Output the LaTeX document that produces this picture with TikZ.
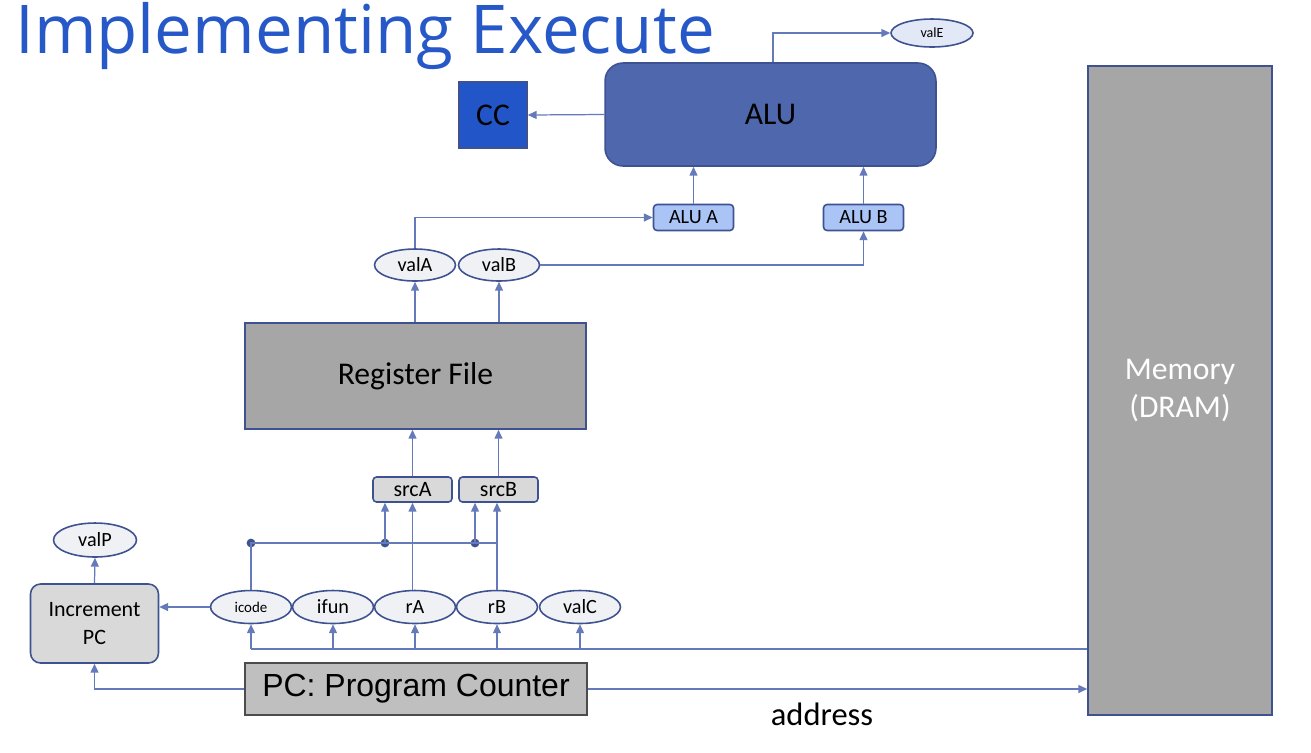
\documentclass[tikz,border=0pt]{standalone}
\usepackage{fontspec}
\setmainfont{Carlito}
\newfontfamily\titlefont{Open Sans}
\newfontfamily\arialfont{Liberation Sans}
\usetikzlibrary{arrows.meta,shapes.geometric,positioning}

\definecolor{titleblue}{RGB}{38,88,200}
\definecolor{wireblue}{RGB}{100,122,186}
\definecolor{edgeblue}{RGB}{62,82,145}
\definecolor{alufill}{RGB}{79,103,172}
\definecolor{ccfill}{RGB}{34,86,200}
\definecolor{muxfill}{RGB}{170,197,245}
\definecolor{ovalfill}{RGB}{240,241,245}
\definecolor{darkgray}{RGB}{166,166,166}
\definecolor{lightgray}{RGB}{217,217,217}
\definecolor{pcgray}{RGB}{191,191,191}

\begin{document}
\begin{tikzpicture}[x=0.02cm,y=-0.02cm,
  wire/.style={draw=wireblue, line width=0.7pt},
  arr/.style={wire, -{Triangle[length=5pt,width=4.5pt]}},
  oval/.style={ellipse, draw=edgeblue, line width=0.9pt, fill=ovalfill,
    inner sep=0pt, minimum width=1.62cm, minimum height=0.66cm, font=\fontsize{11.5}{12}\selectfont},
  muxbox/.style={rectangle, rounded corners=2pt, draw=edgeblue, line width=0.9pt,
    minimum width=1.6cm, minimum height=0.52cm, inner sep=0pt, font=\fontsize{11.5}{12}\selectfont},
  bigbox/.style={rectangle, draw=edgeblue, line width=0.9pt, fill=darkgray,
    inner sep=0pt, font=\fontsize{18}{21.6}\selectfont, align=center},
  dot/.style={circle, fill=edgeblue, inner sep=0pt, minimum size=5pt}]

\useasboundingbox (0,0) rectangle (1311,752);

% title
\node[anchor=base west, text=titleblue, inner sep=0pt] (title) at (15,53)
  {\titlefont\fontsize{38.3}{42}\selectfont Implementing Execute};

% ALU part
\node[rectangle, rounded corners=0.36cm, draw=edgeblue, line width=0.9pt, fill=alufill,
  minimum width=6.62cm, minimum height=2.06cm, font=\fontsize{18}{21}\selectfont] (alu) at (770.5,114.5) {ALU};
\node[rectangle, draw=edgeblue, line width=0.9pt, fill=ccfill, minimum width=1.36cm,
  minimum height=1.32cm, font=\fontsize{18}{21}\selectfont] (cc) at (493,115) {CC};
\node[oval, minimum width=1.64cm, minimum height=0.56cm, fill=ovalfill!80!muxfill,
  font=\fontsize{8}{9}\selectfont] (valE) at (932,33) {valE};
\node[muxbox, fill=muxfill] (aluA) at (693.5,217.5) {ALU A};
\node[muxbox, fill=muxfill] (aluB) at (863.5,217.5) {ALU B};

\draw[arr] (alu.west) -- (cc.east);
\draw[arr] ([xshift=0.05cm]alu.north) |- (valE.west);
\draw[arr] (aluA.north) -- (aluA.north |- alu.south);
\draw[arr] (aluB.north) -- (aluB.north |- alu.south);

% register file
\node[oval, minimum height=0.64cm] (valA) at (415,265) {valA};
\node[oval, minimum height=0.64cm] (valB) at (499,265) {valB};
\node[bigbox, minimum width=6.82cm, minimum height=2.12cm] (rf) at (415.5,376) {Register File};
\node[muxbox, fill=lightgray, minimum width=1.58cm, minimum height=0.5cm,
  font=\fontsize{12.5}{13}\selectfont] (srcA) at (412.5,489.5) {srcA};
\node[muxbox, fill=lightgray, minimum width=1.58cm, minimum height=0.5cm,
  font=\fontsize{12.5}{13}\selectfont] (srcB) at (498.5,489.5) {srcB};

\draw[arr] (valA.north) |- (aluA.west);
\draw[arr] (valB.east) -| (aluB.south);
\draw[arr] (valA.south |- rf.north) -- (valA.south);
\draw[arr] (valB.south |- rf.north) -- (valB.south);
\draw[arr] (srcA.north) -- (srcA.north |- rf.south);
\draw[arr] (srcB.north) -- (srcB.north |- rf.south);

% fetch values
\node[oval, font=\fontsize{8.5}{9}\selectfont] (icode) at (251,607) {icode};
\node[oval] (ifun) at (333,607) {ifun};
\node[oval] (rA) at (415,607) {rA};
\node[oval] (rB) at (497,607) {rB};
\node[oval] (valC) at (580,607) {valC};

\node[dot] (d1) at (251,543) {};
\node[dot] (d2) at (385,543) {};
\node[dot] (d3) at (475,543) {};

\draw[wire] (icode.north) -- (d1.center) -- (rB.north |- d1.center);
\draw[arr] (d2.center) -- (d2.center |- srcA.south);
\draw[arr] (d3.center) -- (d3.center |- srcB.south);
\draw[arr] ([xshift=-0.05cm]rA.north) -- ([xshift=-0.05cm]rA.north |- srcA.south);
\draw[arr] (rB.north) -- (rB.north |- srcB.south);

% increment PC
\node[rectangle, rounded corners=0.2cm, draw=edgeblue, line width=0.9pt, fill=lightgray,
  minimum width=2.56cm, minimum height=1.58cm, align=center,
  font=\fontsize{12.5}{16}\selectfont] (incpc) at (94.5,623.5) {Increment\\PC};
\node[oval, minimum width=1.66cm, minimum height=0.68cm] (valP) at (95,540) {valP};
\draw[arr] (icode.west) -- (icode.west -| incpc.east);
\draw[arr] (incpc.north) -- (valP.south);

% memory and PC
\node[bigbox, minimum width=3.68cm, minimum height=12.98cm, text=white] (mem) at (1180,390.5) {Memory\\(DRAM)};
\node[rectangle, draw=black!70, line width=0.9pt, fill=pcgray, minimum width=6.84cm,
  minimum height=1.04cm, inner sep=0pt, font=\arialfont\fontsize{18.2}{21}\selectfont] (pc) at (416,689) {PC: Program Counter};
\node[font=\fontsize{18.5}{21}\selectfont] (addr) at (822,714) {address};

\coordinate (bus) at (0,649);
\draw[wire] (icode |- bus) -- (mem.west |- bus);
\foreach \n in {icode,ifun,rA,rB,valC}
  \draw[arr] (\n |- bus) -- (\n.south);
\draw[arr] (pc.west) -| (incpc.south);
\draw[arr] (pc.east) -- (mem.west |- pc.east);

\end{tikzpicture}
\end{document}
